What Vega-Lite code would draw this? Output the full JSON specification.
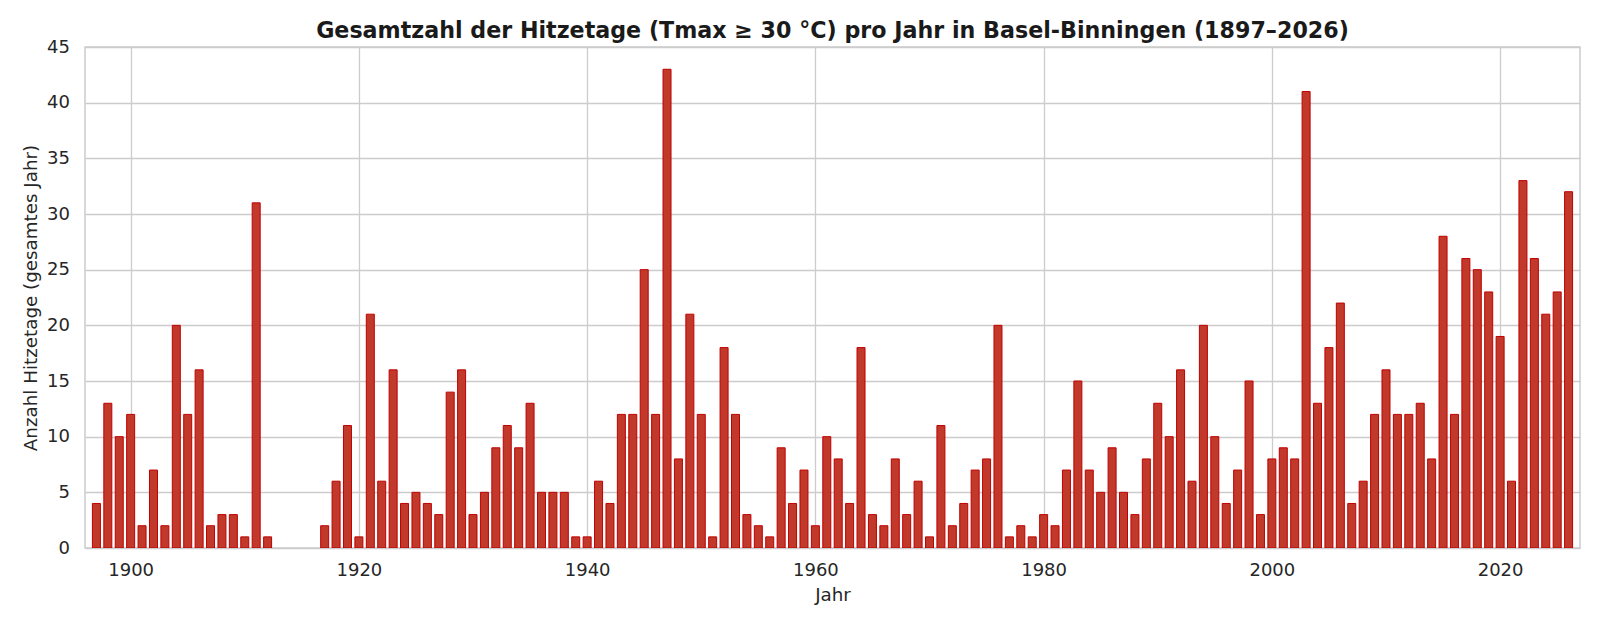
{
  "$schema": "https://vega.github.io/schema/vega-lite/v6.json",
  "width": 1495,
  "height": 501,
  "autosize": {"type": "none"},
  "padding": {"left": 85, "top": 47, "right": 20, "bottom": 81},
  "background": "white",
  "config": {
    "font": "DejaVu Sans",
    "view": {"stroke": "#cccccc", "strokeWidth": 1.5},
    "axis": {
      "gridColor": "#cccccc",
      "gridWidth": 1.3,
      "domain": false,
      "ticks": false,
      "labelFont": "DejaVu Sans",
      "labelFontSize": 18,
      "labelColor": "#262626",
      "titleFont": "DejaVu Sans",
      "titleFontSize": 18.3,
      "titleFontWeight": "normal",
      "titleColor": "#262626"
    }
  },
  "title": {
    "text": "Gesamtzahl der Hitzetage (Tmax ≥ 30 °C) pro Jahr in Basel-Binningen (1897–2026)",
    "font": "DejaVu Sans",
    "fontSize": 22.2,
    "fontWeight": "bold",
    "color": "#1a1a1a",
    "anchor": "middle",
    "frame": "group",
    "offset": -4
  },
  "data": {
    "values": [
      {"jahr": 1897, "tage": 4}, {"jahr": 1898, "tage": 13}, {"jahr": 1899, "tage": 10},
      {"jahr": 1900, "tage": 12}, {"jahr": 1901, "tage": 2}, {"jahr": 1902, "tage": 7},
      {"jahr": 1903, "tage": 2}, {"jahr": 1904, "tage": 20}, {"jahr": 1905, "tage": 12},
      {"jahr": 1906, "tage": 16}, {"jahr": 1907, "tage": 2}, {"jahr": 1908, "tage": 3},
      {"jahr": 1909, "tage": 3}, {"jahr": 1910, "tage": 1}, {"jahr": 1911, "tage": 31},
      {"jahr": 1912, "tage": 1},
      {"jahr": 1917, "tage": 2}, {"jahr": 1918, "tage": 6}, {"jahr": 1919, "tage": 11},
      {"jahr": 1920, "tage": 1}, {"jahr": 1921, "tage": 21}, {"jahr": 1922, "tage": 6},
      {"jahr": 1923, "tage": 16}, {"jahr": 1924, "tage": 4}, {"jahr": 1925, "tage": 5},
      {"jahr": 1926, "tage": 4}, {"jahr": 1927, "tage": 3}, {"jahr": 1928, "tage": 14},
      {"jahr": 1929, "tage": 16}, {"jahr": 1930, "tage": 3}, {"jahr": 1931, "tage": 5},
      {"jahr": 1932, "tage": 9}, {"jahr": 1933, "tage": 11}, {"jahr": 1934, "tage": 9},
      {"jahr": 1935, "tage": 13}, {"jahr": 1936, "tage": 5}, {"jahr": 1937, "tage": 5},
      {"jahr": 1938, "tage": 5}, {"jahr": 1939, "tage": 1}, {"jahr": 1940, "tage": 1},
      {"jahr": 1941, "tage": 6}, {"jahr": 1942, "tage": 4}, {"jahr": 1943, "tage": 12},
      {"jahr": 1944, "tage": 12}, {"jahr": 1945, "tage": 25}, {"jahr": 1946, "tage": 12},
      {"jahr": 1947, "tage": 43}, {"jahr": 1948, "tage": 8}, {"jahr": 1949, "tage": 21},
      {"jahr": 1950, "tage": 12}, {"jahr": 1951, "tage": 1}, {"jahr": 1952, "tage": 18},
      {"jahr": 1953, "tage": 12}, {"jahr": 1954, "tage": 3}, {"jahr": 1955, "tage": 2},
      {"jahr": 1956, "tage": 1}, {"jahr": 1957, "tage": 9}, {"jahr": 1958, "tage": 4},
      {"jahr": 1959, "tage": 7}, {"jahr": 1960, "tage": 2}, {"jahr": 1961, "tage": 10},
      {"jahr": 1962, "tage": 8}, {"jahr": 1963, "tage": 4}, {"jahr": 1964, "tage": 18},
      {"jahr": 1965, "tage": 3}, {"jahr": 1966, "tage": 2}, {"jahr": 1967, "tage": 8},
      {"jahr": 1968, "tage": 3}, {"jahr": 1969, "tage": 6}, {"jahr": 1970, "tage": 1},
      {"jahr": 1971, "tage": 11}, {"jahr": 1972, "tage": 2}, {"jahr": 1973, "tage": 4},
      {"jahr": 1974, "tage": 7}, {"jahr": 1975, "tage": 8}, {"jahr": 1976, "tage": 20},
      {"jahr": 1977, "tage": 1}, {"jahr": 1978, "tage": 2}, {"jahr": 1979, "tage": 1},
      {"jahr": 1980, "tage": 3}, {"jahr": 1981, "tage": 2}, {"jahr": 1982, "tage": 7},
      {"jahr": 1983, "tage": 15}, {"jahr": 1984, "tage": 7}, {"jahr": 1985, "tage": 5},
      {"jahr": 1986, "tage": 9}, {"jahr": 1987, "tage": 5}, {"jahr": 1988, "tage": 3},
      {"jahr": 1989, "tage": 8}, {"jahr": 1990, "tage": 13}, {"jahr": 1991, "tage": 10},
      {"jahr": 1992, "tage": 16}, {"jahr": 1993, "tage": 6}, {"jahr": 1994, "tage": 20},
      {"jahr": 1995, "tage": 10}, {"jahr": 1996, "tage": 4}, {"jahr": 1997, "tage": 7},
      {"jahr": 1998, "tage": 15}, {"jahr": 1999, "tage": 3}, {"jahr": 2000, "tage": 8},
      {"jahr": 2001, "tage": 9}, {"jahr": 2002, "tage": 8}, {"jahr": 2003, "tage": 41},
      {"jahr": 2004, "tage": 13}, {"jahr": 2005, "tage": 18}, {"jahr": 2006, "tage": 22},
      {"jahr": 2007, "tage": 4}, {"jahr": 2008, "tage": 6}, {"jahr": 2009, "tage": 12},
      {"jahr": 2010, "tage": 16}, {"jahr": 2011, "tage": 12}, {"jahr": 2012, "tage": 12},
      {"jahr": 2013, "tage": 13}, {"jahr": 2014, "tage": 8}, {"jahr": 2015, "tage": 28},
      {"jahr": 2016, "tage": 12}, {"jahr": 2017, "tage": 26}, {"jahr": 2018, "tage": 25},
      {"jahr": 2019, "tage": 23}, {"jahr": 2020, "tage": 19}, {"jahr": 2021, "tage": 6},
      {"jahr": 2022, "tage": 33}, {"jahr": 2023, "tage": 26}, {"jahr": 2024, "tage": 21},
      {"jahr": 2025, "tage": 23}, {"jahr": 2026, "tage": 32}
    ]
  },
  "mark": {
    "type": "bar",
    "size": 8,
    "fill": "#c0392b",
    "stroke": "#c00000",
    "strokeWidth": 1,
    "clip": true
  },
  "encoding": {
    "x": {
      "field": "jahr",
      "type": "quantitative",
      "scale": {"domain": [1896, 2027], "nice": false, "zero": false, "padding": 0},
      "axis": {
        "values": [1900, 1920, 1940, 1960, 1980, 2000, 2020],
        "format": "d",
        "title": "Jahr",
        "labelPadding": 13,
        "titlePadding": 7
      }
    },
    "y": {
      "field": "tage",
      "type": "quantitative",
      "scale": {"domain": [0, 45], "nice": false},
      "axis": {
        "values": [0, 5, 10, 15, 20, 25, 30, 35, 40, 45],
        "title": "Anzahl Hitzetage (gesamtes Jahr)",
        "labelPadding": 15.5,
        "titlePadding": 6
      }
    }
  }
}
